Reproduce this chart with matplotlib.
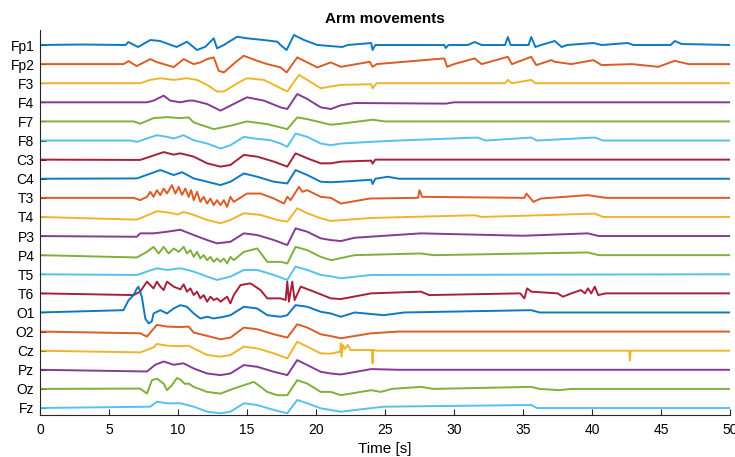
import matplotlib
matplotlib.use("Agg")
import matplotlib.pyplot as plt

plt.rcParams['font.family'] = ['Liberation Sans', 'DejaVu Sans']

channels = ["Fp1", "Fp2", "F3", "F4", "F7", "F8", "C3", "C4", "T3", "T4",
            "P3", "P4", "T5", "T6", "O1", "O2", "Cz", "Pz", "Oz", "Fz"]

# Trace knots: (time [s], deflection, upward positive)
FP1 = [(0,0),(3,0.5),(6.2,0),(6.4,3),(7.1,-2),(8.0,5),(8.7,4),(9.9,-2),(10.65,3.3),(11.38,-5),(11.99,-1.7),(12.59,6.7),(12.83,-3.3),(13.32,0),(14.29,8.3),(15.0,6.7),(16.2,5),(17.2,3.3),(17.43,0),(17.87,-5),(18.4,10),(19.13,5),(20.1,0),(21.9,-2),(22.3,0),(24.0,2),(24.1,-5),(24.3,0),(29.3,0),(29.4,-3),(29.6,0),(31.0,0),(31.5,3),(32,0),(33.7,0),(33.9,8),(34.1,0),(35.4,0),(35.6,8),(35.9,-2),(36.3,0),(37.06,3),(37.3,4),(37.8,-2),(38.2,0),(40.1,2),(40.7,0),(42.6,2),(43,0),(45.7,0),(46.0,4),(46.5,1),(50,0)]
FP2 = [(0,0),(6.05,0),(6.42,3),(7.0,-2),(7.99,5),(8.47,2),(8.96,0),(9.69,-3),(10.41,5),(11.14,0),(11.62,1.7),(12.11,5),(12.59,6.7),(12.95,-6.7),(13.32,-8.3),(14.29,3.3),(14.77,8.3),(15.74,3.3),(16.47,0),(17.43,-3.3),(17.87,-8.3),(18.64,6.7),(19.37,1.7),(20.1,-3.3),(21.07,1.7),(21.8,-2.7),(23.9,2.3),(24.1,-2.7),(24.4,0),(29.3,5.7),(29.5,-2.7),(30,0),(31.5,5.7),(32,0),(33.9,7.3),(34.2,0),(35.6,7.3),(35.96,-1),(37.06,4),(37.3,2.3),(38.5,0),(40.1,4),(40.7,-1),(42.9,0),(44.8,-2.7),(46,3.3),(47,0),(50,0)]
F3 = [(0,0),(7.26,0),(7.99,3.3),(8.72,5),(9.69,3.3),(10.65,5),(11.38,3.3),(12.11,-1.7),(12.83,-8.3),(13.32,-8.3),(14.53,1.7),(15.0,5),(16.22,3.3),(17.19,-3.3),(17.92,-8.3),(18.77,8.3),(19.37,3.3),(20.34,-5),(21.07,-3.3),(21.8,-1.7),(24.0,-1),(24.1,-5),(24.4,0),(33.7,0),(33.9,3.3),(34.2,0),(35.6,3.3),(35.9,0),(50,0)]
F4 = [(0,0),(7.75,0),(8.23,1.7),(8.96,6.7),(9.44,1.7),(10.17,0),(10.77,1.7),(11.14,1.7),(12.11,-1.7),(13.08,-8.3),(13.8,-3.3),(15.0,5),(16.22,1.7),(17.43,-5),(17.92,-6.7),(18.64,8.3),(19.37,3.3),(20.34,-5),(21.07,-6.7),(21.8,-3),(22.8,-0.7),(29.4,-1.3),(30,0),(50,0)]
F7 = [(0,0),(6.8,0),(7.26,-2.3),(8.23,3.3),(9.2,4.3),(10.17,3.3),(10.77,4),(11.14,-1),(12.59,-7.7),(13.8,-4.3),(15.0,0),(16.47,-2.7),(17.92,-7.7),(18.64,4),(19.37,2.3),(21.07,-3.3),(21.8,-2.3),(24.1,1.7),(25,0),(50,0)]
F8 = [(0,0),(6.54,0),(7.02,-1.3),(8.47,5.3),(9.2,3.7),(9.69,2),(10.4,5.3),(11.14,0.3),(12.11,-3),(13.08,-8),(13.8,-4.7),(14.77,3.7),(15.5,2),(16.71,0.3),(17.43,-3),(17.92,-6.3),(18.52,7),(19.37,3.7),(20.34,-3),(21.07,-4.7),(21.8,-3),(24,-1.3),(26,0),(31.7,3),(32.3,0),(35.6,3),(36,0),(40.2,3),(40.8,0),(50,0)]
C3 = [(0,0),(7.26,-0.3),(8.96,7.5),(9.69,5),(10.17,6.3),(11.14,3),(12.11,-3.7),(13.08,-7),(13.8,-5.3),(14.77,4.7),(15.74,3),(16.95,-2),(17.92,-7),(18.52,6.3),(19.37,1.3),(20.34,-3.7),(21.07,-3.7),(21.8,-2),(24.0,-1),(24.1,-4),(24.3,0),(50,0)]
C4 = [(0,0),(7.02,0.3),(8.72,8.7),(9.69,3.7),(10.3,6.5),(11.14,0.3),(12.11,-3),(13.08,-6.3),(13.8,-3),(14.77,5.3),(15.74,2),(16.95,-3),(17.92,-4.7),(18.52,8.7),(19.37,3.7),(20.34,-3),(21.07,-3.5),(21.8,-3),(24.0,-1),(24.1,-5.3),(24.3,0),(25.2,2),(26,0),(50,0)]
T3 = [(0,0),(6.78,0),(7.26,-2.3),(7.75,1),(7.99,6),(8.23,1),(8.47,7.7),(8.72,2.7),(8.96,9.3),(9.2,4.3),(9.56,12.7),(9.81,4.3),(10.05,11),(10.29,3),(10.53,9.3),(10.77,1),(10.95,7.7),(11.14,-2.3),(11.38,6),(11.62,-4),(11.86,1),(12.11,-5.7),(12.35,-0.7),(12.59,-7.3),(12.83,-2.3),(13.08,-7.3),(13.32,-2.3),(13.56,-9),(13.8,1),(14.04,-4),(15.0,4.3),(15.98,4.3),(16.95,-0.7),(17.68,-5.7),(17.92,1),(18.16,-2.3),(18.77,11),(19.01,6),(19.37,7.7),(20.34,1),(21.07,0),(21.8,-5.7),(23.9,-0.7),(27.4,0),(27.5,7.7),(27.7,1),(35.1,0),(35.25,4.3),(35.45,1),(35.75,-4),(36.3,-0.7),(39.7,2.7),(41,0),(50,0)]
T4 = [(0,0),(7.02,-2.7),(8.47,5.7),(9.2,4.7),(10.0,2.5),(10.4,5),(11.14,2),(12.11,-3),(13.08,-6.3),(13.8,-3),(14.77,3.7),(15.98,2),(17.19,-3),(17.92,-4.7),(18.64,8.7),(19.37,3.7),(20.34,-1.3),(21.07,-4),(21.8,-3.3),(24,-1),(31.5,1.7),(32,0),(40.2,3.3),(40.8,0),(50,0)]
P3 = [(0,0),(7.02,-0.7),(7.26,2.7),(8.23,2.7),(9.2,4.3),(10.17,6.3),(11.14,1),(12.11,-4),(12.83,-7.3),(13.8,-5.7),(14.77,2.7),(15.74,1),(16.95,-4),(17.92,-9),(18.52,7.7),(19.37,4.3),(20.34,-2.3),(21.07,-4),(21.8,-5),(22.8,-1.7),(27.6,2.7),(35,0.3),(39.7,2.7),(40.5,0),(50,0)]
P4 = [(0,0),(7.02,-2.3),(7.75,3.3),(8.23,8.3),(8.6,1.7),(8.96,8.3),(9.32,1.7),(9.69,6.7),(10.05,3.3),(10.41,8.3),(10.65,1.7),(10.9,5),(11.14,-1.7),(11.38,3.3),(11.62,-3.3),(11.86,0),(12.11,-5),(12.35,-1.7),(12.59,-6.7),(12.83,-3.3),(13.08,-6.7),(13.32,-3.3),(13.56,-8.3),(13.8,-1.7),(14.04,-5),(14.77,3.3),(15.74,6.7),(16.47,-6.7),(17.43,-6.7),(17.92,-8.3),(18.52,8.3),(19.37,5),(20.34,-1.7),(21.1,-5),(22.8,0),(27.6,1.7),(28.5,0),(39.7,2.7),(40.5,0),(50,0)]
T5 = [(0,0),(7.02,-0.7),(8.47,6),(9.2,4.3),(10.17,6),(11.14,2.7),(12.11,-2.3),(12.83,-5.7),(13.8,-2.3),(14.77,4.3),(15.74,4.3),(16.95,-0.7),(17.92,-5.7),(18.52,7.7),(19.37,4.3),(20.34,-0.7),(21.07,-2),(21.8,-4),(24,-0.7),(50,0)]
T6 = [(0,0),(6.78,-1.7),(7.26,1.7),(7.75,11.7),(7.99,8.3),(8.23,5),(8.47,11.7),(8.72,6.7),(8.96,3.3),(9.2,11.7),(9.69,6.7),(10.17,4),(10.41,9),(10.65,1.7),(10.9,5),(11.14,-1.7),(11.38,1.7),(11.62,-5),(11.86,-1.7),(12.11,-8.3),(12.35,-3.3),(12.59,-6.7),(12.83,-5),(13.08,-8.3),(13.56,-3.3),(13.8,-10),(14.04,-1.7),(14.53,8.3),(15.25,10),(15.98,3.3),(16.47,-5),(17.43,-5),(17.8,-6.7),(17.92,11.7),(18.04,-8.3),(18.28,11.7),(18.45,-6.7),(18.89,6.7),(19.86,1.7),(21.07,-5),(21.8,-5.7),(24,0),(27.6,1.7),(28.2,-1.7),(34.8,0),(35.1,-5),(35.3,5),(35.6,1.7),(37.5,0),(37.9,-3.3),(38.5,0),(39.2,3.3),(39.5,0),(39.7,5),(39.95,0),(40.2,6.7),(40.45,-1.7),(41,0),(50,0)]
O1 = [(0,0),(6.05,2.3),(6.42,12.3),(6.78,17.3),(7.02,24),(7.14,25.7),(7.38,15.7),(7.63,-6),(7.87,-11),(8.1,-9),(8.23,-1),(8.72,2.3),(9.2,-1),(9.69,4),(10.17,7.3),(10.65,5.7),(11.14,-1),(11.62,-6),(12.11,-4.3),(12.59,-6),(13.32,-4.3),(13.8,-2.7),(14.77,5.7),(15.74,4),(16.47,-2.7),(17.43,-4.3),(17.92,-2.7),(18.52,7.3),(19.37,5.7),(20.34,0.7),(21.07,-1),(21.8,-4.3),(22.8,0),(24.9,-2.7),(26.4,0),(35.6,2.3),(36.2,0),(50,0)]
O2 = [(0,0),(7.26,-1.7),(7.75,-5),(8.47,6.7),(9.2,5),(10.17,4.5),(10.77,5),(11.14,-1),(12.11,-4.3),(13.08,-7.7),(13.8,-6),(14.77,4),(15.74,2.3),(16.95,-2.7),(17.92,-6),(18.64,7.3),(19.37,4),(20.34,-2.7),(21.07,-4.5),(21.8,-6.7),(24,-1.7),(26,0),(50,0)]
CZ = [(0,0),(7.26,-1.7),(8.23,3.3),(8.47,6.7),(9.2,5),(10.17,4.5),(10.77,5),(11.14,2.3),(12.11,-4.3),(13.08,-6),(13.8,-4.3),(14.77,4),(15.74,2.3),(16.95,-2.7),(17.92,-7.7),(18.64,9),(19.37,4),(20.34,-2.7),(21.07,-3),(21.75,-1),(21.8,7.3),(21.85,-6),(21.95,5.7),(22.1,1.7),(22.3,5.7),(22.5,0.7),(24.05,0.7),(24.1,-12.7),(24.15,0.7),(24.4,0),(42.7,0),(42.75,-10),(42.8,0),(50,0)]
PZ = [(0,0),(7.75,-1.7),(8.35,5),(8.96,8.3),(9.69,5),(10.4,6.5),(11.14,1.3),(12.11,-3.7),(13.08,-5.3),(13.8,-3.7),(14.77,4.7),(15.74,3),(16.95,-2),(17.92,-5.3),(18.64,9.7),(19.37,4.7),(20.34,-2),(21.07,-3.7),(21.8,-4.7),(24,0.7),(26,0),(50,0)]
OZ = [(0,0),(7.26,0.3),(7.75,-4.7),(8.11,8.7),(8.47,10.3),(8.96,5.3),(9.2,-1.3),(9.56,3.7),(9.93,11),(10.2,9),(10.5,5),(10.77,5.3),(11.14,2),(12.11,-3),(13.08,-4.7),(14.04,0.3),(15.5,7),(16.47,-3),(17.19,-6.3),(17.92,-6.3),(18.64,8.7),(19.37,5.3),(20.34,-3),(21.07,-3),(21.8,-6.3),(24,-1.3),(24.7,-3),(25.5,0),(27.6,2),(28.5,0),(35.6,2),(36.2,0),(37.6,-1.3),(38.5,0),(50,0)]
FZ = [(0,0),(7.99,1.3),(8.47,6.3),(9.2,4.7),(10.17,4.7),(11.14,1.3),(12.11,-3.7),(13.08,-5.3),(13.8,-3.7),(14.77,4.7),(15.74,3),(16.95,-2),(17.92,-5.3),(18.64,8),(19.37,4.7),(20.34,-0.3),(21.07,-2),(21.8,-3.7),(24.9,1.3),(35.6,3),(36,0),(50,0)]

traces = [FP1, FP2, F3, F4, F7, F8, C3, C4, T3, T4,
          P3, P4, T5, T6, O1, O2, CZ, PZ, OZ, FZ]

xticks = [0, 5, 10, 15, 20, 25, 30, 35, 40, 45, 50]

matlab_colors = ["#0072BD", "#D95319", "#EDB120", "#7E2F8E",
                 "#77AC30", "#4DBEEE", "#A2142F"]

fig = plt.figure(figsize=(7.35, 4.57), dpi=100)
ax = fig.add_axes([40/735, 1-415/457, 690/735, 385/457])

scale = 1/19.1
offsets = [-i for i in range(len(channels))]
for i, (name, tr) in enumerate(zip(channels, traces)):
    tt = [p[0] for p in tr]
    vv = [offsets[i] + p[1]*scale for p in tr]
    ax.plot(tt, vv, color=matlab_colors[i % 7], lw=1.4, alpha=0.95,
            solid_joinstyle='round')

ax.set_xlim(0, 50)
ax.set_ylim(-19 - 7/19.1, 15/19.1)
ax.set_yticks(offsets)
ax.set_yticklabels(channels, fontsize=10, color="#000000")
ax.set_xticks(xticks)
ax.set_xticklabels([str(x) for x in xticks], fontsize=10)
ax.tick_params(direction='in', length=4, color="#262626", width=0.8)
ax.tick_params(axis='x', pad=6)
ax.tick_params(axis='y', pad=4)
for s in ['top', 'right']:
    ax.spines[s].set_visible(False)
for s in ['left', 'bottom']:
    ax.spines[s].set_color("#262626")
    ax.spines[s].set_linewidth(0.8)
ax.set_xlabel("Time [s]", fontsize=11, labelpad=3)
ax.set_title("Arm movements", fontsize=11, fontweight='bold', pad=5)

fig.savefig("out.png", dpi=100)
